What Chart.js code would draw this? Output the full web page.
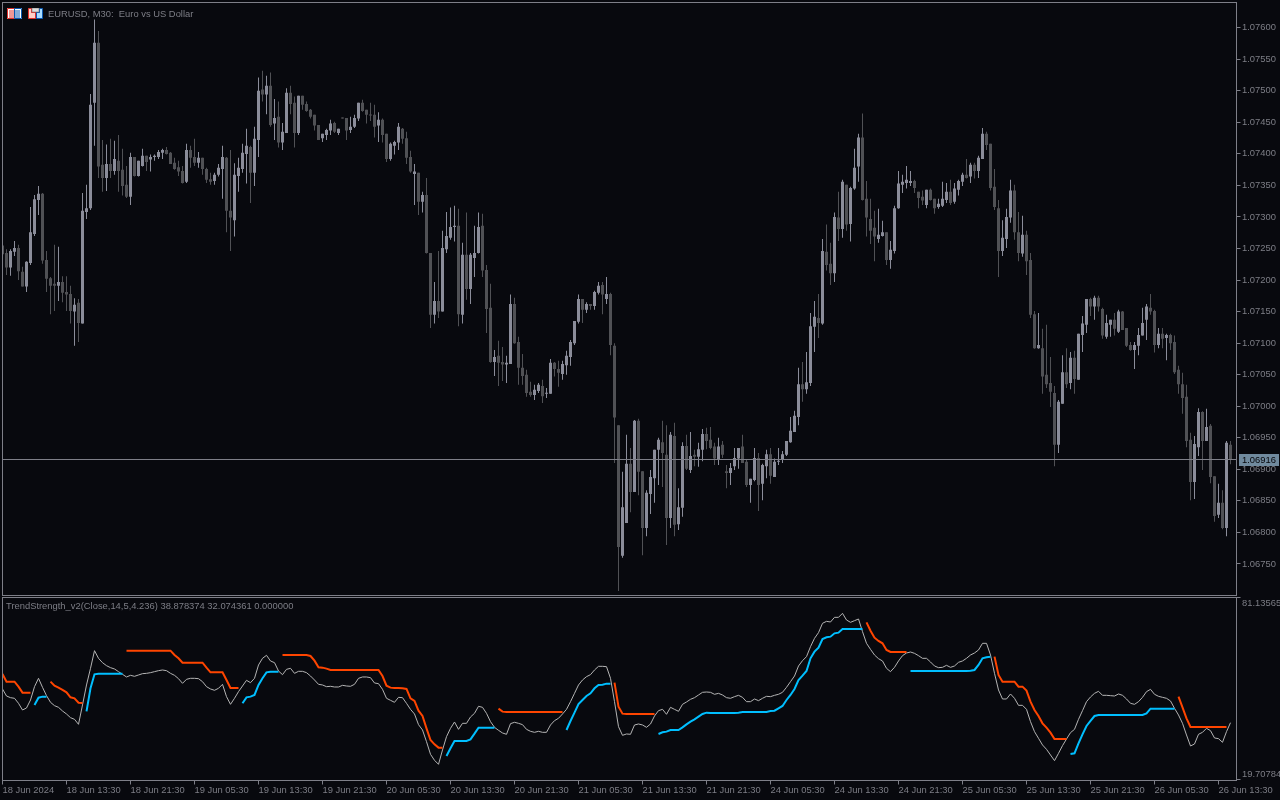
<!DOCTYPE html>
<html>
<head>
<meta charset="utf-8">
<title>EURUSD M30 - TrendStrength_v2</title>
<script src="https://cdn.jsdelivr.net/npm/chart.js@4/dist/chart.umd.min.js"></script>
<style>
    html, body { margin: 0; padding: 0; width: 1280px; height: 800px; overflow: hidden; background: #08090e; }
    canvas { position: absolute; left: 0; display: block; }
    #priceChart { top: 0; }
    #strengthChart { top: 596px; }
    .icon { position: absolute; top: 8px; z-index: 2; }
</style>
</head>
<body>
<svg class="icon" style="left:7px" width="15" height="11" viewBox="0 0 15 11">
    <rect width="15" height="11" fill="#fff"/>
    <path d="M.5 .5H7.5V10.5H.5Z" fill="none" stroke="#e0302a"/>
    <path d="M7.5 .5H14.5V10.5H7.5Z" fill="none" stroke="#0a58b0"/>
    <path d="M2 3H7M2 5H7M2 7H7M2 9H7" stroke="#e0302a"/>
    <path d="M8 3H13M8 5H13M8 7H13M8 9H13" stroke="#0a58b0"/>
</svg>
<svg class="icon" style="left:28px" width="15" height="11" viewBox="0 0 15 11">
    <path d="M.5 .5H3.5V4.5H7.5V10.5H.5Z" fill="#ffd0c8" stroke="#e0302a"/>
    <path d="M8.5 10.5V4.5H11.5V.5H14.5V10.5Z" fill="#a8dcff" stroke="#0a58b0"/>
    <rect x="4" y="0" width="7" height="4" fill="#ddd" stroke="#777" stroke-width=".6"/>
</svg>
<canvas id="priceChart" width="1280" height="596"></canvas>
<canvas id="strengthChart" width="1280" height="204"></canvas>

<script>
// Candles, 308 M30 bars
const opens = [
    1.07255,1.07243,1.07220,1.07245,1.07251,1.07213,1.07190,1.07227,1.07273,1.07327,
    1.07337,1.07232,1.07203,1.07194,1.07191,1.07197,1.07181,1.07178,1.07150,1.07164,
    1.07131,1.07308,1.07314,1.07481,1.07576,1.07383,1.07362,1.07384,1.07373,1.07389,
    1.07375,1.07351,1.07332,1.07395,1.07365,1.07381,1.07397,1.07391,1.07395,1.07395,
    1.07402,1.07406,1.07402,1.07386,1.07379,1.07373,1.07356,1.07406,1.07395,1.07386,
    1.07394,1.07376,1.07360,1.07357,1.07367,1.07376,1.07394,1.07310,1.07295,1.07365,
    1.07376,1.07400,1.07411,1.07370,1.07422,1.07502,1.07494,1.07508,1.07448,1.07459,
    1.07418,1.07433,1.07497,1.07481,1.07433,1.07492,1.07479,1.07470,1.07462,1.07446,
    1.07425,1.07430,1.07437,1.07449,1.07433,1.07457,1.07457,1.07438,1.07443,1.07456,
    1.07481,1.07470,1.07462,1.07462,1.07445,1.07454,1.07432,1.07392,1.07413,1.07418,
    1.07440,1.07425,1.07395,1.07368,1.07370,1.07324,1.07335,1.07243,1.07145,1.07167,
    1.07150,1.07249,1.07267,1.07284,1.07286,1.07145,1.07240,1.07186,1.07235,1.07243,
    1.07286,1.07216,1.07156,1.07070,1.07080,1.07070,1.07066,1.07067,1.07162,1.07102,
    1.07061,1.07050,1.07023,1.07018,1.07024,1.07032,1.07020,1.07020,1.07069,1.07059,
    1.07051,1.07065,1.07078,1.07100,1.07134,1.07170,1.07153,1.07162,1.07159,1.07180,
    1.07192,1.07170,1.07178,1.07096,1.06970,1.06763,1.06815,1.06909,1.06864,1.06977,
    1.06897,1.06807,1.06861,1.06886,1.06931,1.06943,1.06923,1.06823,1.06953,1.06813,
    1.06839,1.06937,1.06899,1.06923,1.06920,1.06931,1.06956,1.06947,1.06936,1.06915,
    1.06939,1.06897,1.06894,1.06905,1.06917,1.06936,1.06912,1.06875,1.06883,1.06918,
    1.06877,1.06905,1.06924,1.06888,1.06912,1.06915,1.06923,1.06943,1.06959,1.06983,
    1.07035,1.07027,1.07037,1.07126,1.07140,1.07131,1.07245,1.07226,1.07211,1.07299,
    1.07281,1.07351,1.07289,1.07345,1.07380,1.07426,1.07329,1.07297,1.07283,1.07265,
    1.07270,1.07276,1.07232,1.07246,1.07314,1.07351,1.07354,1.07354,1.07357,1.07340,
    1.07332,1.07319,1.07343,1.07329,1.07316,1.07318,1.07327,1.07340,1.07324,1.07343,
    1.07356,1.07367,1.07364,1.07383,1.07373,1.07392,1.07432,1.07416,1.07348,1.07314,
    1.07246,1.07265,1.07299,1.07342,1.07276,1.07242,1.07272,1.07232,1.07146,1.07092,
    1.07092,1.07050,1.07037,1.07021,1.06939,1.07004,1.07054,1.07037,1.07077,1.07042,
    1.07113,1.07129,1.07170,1.07158,1.07172,1.07154,1.07110,1.07129,1.07137,1.07118,
    1.07150,1.07124,1.07097,1.07089,1.07096,1.07112,1.07137,1.07156,1.07151,1.07097,
    1.07115,1.07108,1.07113,1.07102,1.07058,1.07035,1.07015,1.06947,1.06880,1.06935,
    1.06991,1.06945,1.06969,1.06889,1.06828,1.06847,1.06807,1.06939
];
const highs = [
    1.07255,1.07249,1.07249,1.07262,1.07256,1.07221,1.07230,1.07316,1.07335,1.07349,
    1.07338,1.07246,1.07205,1.07256,1.07253,1.07206,1.07206,1.07191,1.07171,1.07170,
    1.07338,1.07351,1.07495,1.07613,1.07595,1.07422,1.07415,1.07424,1.07421,1.07430,
    1.07408,1.07381,1.07402,1.07395,1.07389,1.07408,1.07397,1.07399,1.07399,1.07406,
    1.07408,1.07411,1.07403,1.07394,1.07389,1.07381,1.07416,1.07413,1.07424,1.07403,
    1.07394,1.07378,1.07370,1.07370,1.07384,1.07413,1.07395,1.07406,1.07385,1.07394,
    1.07416,1.07440,1.07413,1.07443,1.07521,1.07532,1.07524,1.07529,1.07487,1.07483,
    1.07449,1.07504,1.07508,1.07491,1.07492,1.07492,1.07483,1.07471,1.07462,1.07446,
    1.07432,1.07440,1.07454,1.07451,1.07440,1.07457,1.07457,1.07459,1.07462,1.07481,
    1.07486,1.07470,1.07481,1.07478,1.07466,1.07456,1.07432,1.07418,1.07421,1.07449,
    1.07441,1.07435,1.07405,1.07384,1.07370,1.07340,1.07362,1.07243,1.07197,1.07246,
    1.07278,1.07308,1.07315,1.07318,1.07313,1.07259,1.07307,1.07243,1.07286,1.07307,
    1.07305,1.07224,1.07194,1.07089,1.07104,1.07094,1.07080,1.07177,1.07172,1.07110,
    1.07083,1.07058,1.07039,1.07034,1.07037,1.07042,1.07029,1.07075,1.07070,1.07072,
    1.07072,1.07088,1.07105,1.07135,1.07177,1.07170,1.07165,1.07162,1.07183,1.07197,
    1.07197,1.07205,1.07180,1.07100,1.06970,1.06896,1.06955,1.06934,1.06978,1.06980,
    1.06897,1.06867,1.06899,1.06931,1.06950,1.06977,1.06970,1.06959,1.06974,1.06870,
    1.06943,1.06955,1.06959,1.06931,1.06942,1.06964,1.06966,1.06967,1.06942,1.06950,
    1.06945,1.06907,1.06910,1.06934,1.06934,1.06955,1.06915,1.06885,1.06934,1.06926,
    1.06909,1.06931,1.06934,1.06917,1.06934,1.06929,1.06945,1.06983,1.06993,1.07061,
    1.07070,1.07086,1.07148,1.07167,1.07178,1.07265,1.07288,1.07259,1.07307,1.07340,
    1.07359,1.07351,1.07348,1.07408,1.07432,1.07464,1.07357,1.07329,1.07310,1.07313,
    1.07294,1.07276,1.07262,1.07318,1.07373,1.07367,1.07381,1.07373,1.07359,1.07340,
    1.07342,1.07343,1.07345,1.07329,1.07329,1.07356,1.07354,1.07359,1.07354,1.07359,
    1.07370,1.07392,1.07386,1.07386,1.07397,1.07441,1.07435,1.07416,1.07376,1.07327,
    1.07295,1.07313,1.07359,1.07351,1.07308,1.07302,1.07278,1.07243,1.07151,1.07148,
    1.07123,1.07129,1.07078,1.07032,1.07010,1.07081,1.07092,1.07086,1.07088,1.07115,
    1.07143,1.07170,1.07172,1.07175,1.07175,1.07156,1.07145,1.07137,1.07148,1.07153,
    1.07151,1.07124,1.07102,1.07102,1.07124,1.07156,1.07162,1.07178,1.07153,1.07124,
    1.07124,1.07115,1.07115,1.07112,1.07064,1.07053,1.07034,1.06958,1.06953,1.06997,
    1.06992,1.06996,1.06972,1.06889,1.06877,1.06867,1.06945,1.06945
];
const lows = [
    1.07238,1.07208,1.07207,1.07238,1.07200,1.07190,1.07181,1.07224,1.07270,1.07303,
    1.07226,1.07181,1.07146,1.07151,1.07167,1.07165,1.07151,1.07131,1.07096,1.07102,
    1.07131,1.07297,1.07311,1.07413,1.07362,1.07340,1.07341,1.07362,1.07367,1.07340,
    1.07334,1.07330,1.07319,1.07364,1.07364,1.07380,1.07373,1.07372,1.07389,1.07392,
    1.07392,1.07399,1.07384,1.07375,1.07365,1.07353,1.07354,1.07378,1.07381,1.07378,
    1.07367,1.07354,1.07351,1.07351,1.07364,1.07329,1.07276,1.07246,1.07269,1.07340,
    1.07370,1.07353,1.07322,1.07349,1.07395,1.07483,1.07463,1.07443,1.07422,1.07410,
    1.07406,1.07433,1.07463,1.07410,1.07430,1.07470,1.07467,1.07456,1.07437,1.07422,
    1.07419,1.07422,1.07430,1.07433,1.07430,1.07456,1.07422,1.07433,1.07441,1.07452,
    1.07467,1.07448,1.07452,1.07426,1.07419,1.07418,1.07387,1.07389,1.07399,1.07406,
    1.07416,1.07384,1.07370,1.07319,1.07303,1.07307,1.07242,1.07124,1.07131,1.07140,
    1.07150,1.07243,1.07264,1.07261,1.07127,1.07131,1.07169,1.07162,1.07205,1.07242,
    1.07205,1.07116,1.07069,1.07048,1.07032,1.07040,1.07037,1.07067,1.07099,1.07034,
    1.07034,1.07015,1.07015,1.07010,1.07021,1.07005,1.07013,1.07020,1.07047,1.07031,
    1.07042,1.07050,1.07064,1.07097,1.07131,1.07132,1.07148,1.07153,1.07153,1.07177,
    1.07146,1.07162,1.07081,1.06910,1.06707,1.06760,1.06815,1.06832,1.06864,1.06859,
    1.06764,1.06794,1.06829,1.06847,1.06875,1.06872,1.06780,1.06807,1.06794,1.06804,
    1.06825,1.06899,1.06894,1.06905,1.06904,1.06913,1.06932,1.06932,1.06907,1.06907,
    1.06918,1.06870,1.06875,1.06899,1.06901,1.06910,1.06872,1.06847,1.06881,1.06834,
    1.06851,1.06886,1.06877,1.06888,1.06907,1.06910,1.06921,1.06942,1.06959,1.06970,
    1.07007,1.07020,1.07032,1.07086,1.07108,1.07129,1.07215,1.07192,1.07197,1.07262,
    1.07267,1.07278,1.07261,1.07343,1.07356,1.07326,1.07269,1.07257,1.07230,1.07259,
    1.07269,1.07224,1.07218,1.07242,1.07313,1.07338,1.07345,1.07349,1.07338,1.07314,
    1.07319,1.07314,1.07326,1.07305,1.07313,1.07316,1.07322,1.07319,1.07321,1.07334,
    1.07349,1.07361,1.07354,1.07361,1.07362,1.07392,1.07406,1.07342,1.07311,1.07205,
    1.07238,1.07251,1.07291,1.07264,1.07230,1.07237,1.07208,1.07140,1.07091,1.07091,
    1.07020,1.07029,1.06999,1.06905,1.06926,1.07004,1.07029,1.07027,1.07020,1.07042,
    1.07086,1.07116,1.07143,1.07137,1.07150,1.07107,1.07107,1.07110,1.07112,1.07116,
    1.07121,1.07094,1.07088,1.07059,1.07081,1.07112,1.07105,1.07145,1.07085,1.07092,
    1.07092,1.07073,1.07089,1.07051,1.07020,1.06988,1.06935,1.06851,1.06853,1.06921,
    1.06899,1.06945,1.06878,1.06817,1.06823,1.06805,1.06794,1.06908
];
const closes = [
    1.07241,1.07220,1.07246,1.07251,1.07214,1.07190,1.07229,1.07276,1.07328,1.07337,
    1.07231,1.07202,1.07191,1.07191,1.07197,1.07180,1.07177,1.07151,1.07161,1.07132,
    1.07310,1.07314,1.07478,1.07576,1.07380,1.07362,1.07384,1.07373,1.07392,1.07373,
    1.07349,1.07332,1.07395,1.07365,1.07389,1.07397,1.07387,1.07395,1.07397,1.07403,
    1.07406,1.07400,1.07384,1.07376,1.07372,1.07354,1.07406,1.07394,1.07386,1.07394,
    1.07376,1.07359,1.07356,1.07367,1.07378,1.07395,1.07310,1.07299,1.07367,1.07378,
    1.07402,1.07413,1.07370,1.07424,1.07500,1.07494,1.07508,1.07446,1.07457,1.07418,
    1.07435,1.07497,1.07479,1.07433,1.07492,1.07478,1.07468,1.07459,1.07445,1.07422,
    1.07432,1.07438,1.07448,1.07435,1.07440,1.07456,1.07437,1.07443,1.07457,1.07481,
    1.07468,1.07462,1.07461,1.07443,1.07454,1.07430,1.07392,1.07416,1.07419,1.07443,
    1.07424,1.07394,1.07372,1.07372,1.07324,1.07335,1.07243,1.07145,1.07167,1.07150,
    1.07251,1.07270,1.07284,1.07286,1.07146,1.07240,1.07186,1.07240,1.07243,1.07284,
    1.07215,1.07154,1.07070,1.07078,1.07069,1.07066,1.07069,1.07162,1.07100,1.07061,
    1.07048,1.07021,1.07018,1.07026,1.07034,1.07016,1.07021,1.07069,1.07059,1.07053,
    1.07067,1.07080,1.07102,1.07135,1.07170,1.07153,1.07162,1.07159,1.07181,1.07191,
    1.07177,1.07178,1.07097,1.06982,1.06777,1.06840,1.06909,1.06864,1.06977,1.06896,
    1.06807,1.06863,1.06888,1.06931,1.06947,1.06926,1.06823,1.06955,1.06812,1.06840,
    1.06937,1.06901,1.06921,1.06920,1.06932,1.06956,1.06945,1.06934,1.06917,1.06936,
    1.06923,1.06894,1.06902,1.06918,1.06934,1.06910,1.06875,1.06885,1.06918,1.06875,
    1.06907,1.06924,1.06890,1.06912,1.06913,1.06924,1.06945,1.06961,1.06985,1.07035,
    1.07027,1.07038,1.07127,1.07142,1.07132,1.07246,1.07224,1.07211,1.07300,1.07281,
    1.07356,1.07288,1.07346,1.07378,1.07426,1.07327,1.07299,1.07278,1.07269,1.07272,
    1.07276,1.07232,1.07248,1.07314,1.07353,1.07356,1.07359,1.07357,1.07346,1.07330,
    1.07326,1.07343,1.07327,1.07314,1.07321,1.07329,1.07340,1.07322,1.07345,1.07357,
    1.07367,1.07362,1.07383,1.07373,1.07394,1.07432,1.07414,1.07346,1.07316,1.07246,
    1.07267,1.07300,1.07342,1.07276,1.07243,1.07272,1.07230,1.07145,1.07092,1.07097,
    1.07047,1.07035,1.07023,1.06939,1.07007,1.07054,1.07035,1.07077,1.07043,1.07115,
    1.07131,1.07170,1.07158,1.07172,1.07158,1.07112,1.07132,1.07137,1.07123,1.07150,
    1.07121,1.07096,1.07089,1.07097,1.07113,1.07132,1.07158,1.07150,1.07097,1.07115,
    1.07107,1.07113,1.07100,1.07054,1.07035,1.07013,1.06945,1.06880,1.06940,1.06991,
    1.06945,1.06967,1.06888,1.06826,1.06847,1.06807,1.06942,1.06916
];

// Price axis and last price
const priceTicks = [
    1.07600,1.07550,1.07500,1.07450,1.07400,1.07350,1.07300,1.07250,1.07200,
    1.07150,1.07100,1.07050,1.07000,1.06950,1.06900,1.06850,1.06800,1.06750
];
const bidPrice = 1.06916;

// TrendStrength_v2 buffers
const strengthLine = [
    50.26,47.89,47.33,47.11,45.42,43.17,43.84,46.54,51.04,53.86,
    50.82,48.01,45.76,44.63,44.07,42.83,41.82,40.58,40.02,38.33,
    44.86,51.61,57.23,63.19,60.61,59.14,58.13,57.46,57.01,56.11,
    55.21,54.31,54.87,54.53,54.98,55.43,55.54,55.77,56.11,56.44,
    56.67,56.44,55.54,54.87,53.74,52.17,53.52,53.86,53.86,53.74,
    52.73,51.04,50.26,49.81,50.48,51.83,47.67,45.08,47.11,49.36,
    51.27,53.18,52.39,53.86,58.36,60.61,61.62,59.71,59.14,56.33,
    55.09,56.89,57.23,55.54,56.22,56.22,55.77,54.64,53.29,51.83,
    51.61,51.04,51.16,50.93,50.93,51.49,51.27,51.16,51.83,53.86,
    54.31,54.31,54.08,52.28,52.06,50.14,47.11,46.43,45.76,47.44,
    47.33,45.42,43.39,41.82,38.22,36.42,32.48,28.21,26.18,24.83,
    29.67,34.17,36.98,39.12,36.64,38.67,38.67,40.81,42.04,44.41,
    44.07,42.04,39.23,37.32,36.31,35.41,34.96,38.56,39.01,38.67,
    38.22,36.64,35.97,35.63,35.97,35.63,35.63,38.11,39.57,40.36,
    41.82,43.39,45.98,48.79,51.61,53.29,54.42,55.09,56.67,57.91,
    57.91,57.79,53.86,45.98,37.54,34.62,35.07,34.96,38.11,38.44,
    38.11,37.32,38.44,41.14,42.94,43.39,41.71,44.07,43.39,42.72,
    45.08,45.87,46.77,47.33,48.23,49.13,49.24,49.13,48.46,48.79,
    48.23,47.33,47.11,47.67,48.12,47.44,45.98,45.98,46.88,46.32,
    47.11,47.78,47.67,48.12,48.46,49.13,50.82,52.73,54.64,58.02,
    59.82,61.17,64.54,67.36,69.27,72.42,73.09,72.87,74.44,74.44,
    75.79,73.54,72.76,73.32,73.88,69.61,65.67,63.64,61.73,60.49,
    59.71,57.23,56.11,57.57,59.71,61.51,62.41,62.74,62.29,61.51,
    60.61,60.61,59.37,58.02,57.46,57.57,58.24,57.57,58.02,59.26,
    59.71,60.61,61.73,62.41,63.42,65.67,65.67,61.73,55.54,49.92,
    46.88,46.88,48.57,47.11,44.74,44.74,43.39,39.23,35.86,33.61,
    31.36,29.89,27.98,26.07,28.54,31.13,33.38,35.52,36.64,40.02,
    42.94,45.98,47.56,48.79,49.47,48.12,48.12,48.01,47.89,48.57,
    48.12,46.88,45.42,45.08,45.98,47.44,49.36,50.14,48.46,47.78,
    47.44,47.11,46.21,43.73,41.48,38.67,34.73,31.02,31.69,34.96,
    35.63,36.98,36.19,33.72,33.49,32.26,35.86,38.88
];
const strengthUp = [
    null,null,null,null,null,null,null,null,44.86,47.33,
    47.67,47.67,null,null,null,null,null,null,null,null,
    null,42.72,50.48,55.21,55.43,55.43,55.43,55.43,55.43,55.43,
    55.43,null,null,null,null,null,null,null,null,null,
    null,null,null,null,null,null,null,null,null,null,
    null,null,null,null,null,null,null,null,null,null,
    45.42,47.44,47.67,48.23,51.61,53.86,55.88,56.11,56.11,56.11,
    null,null,null,null,null,null,null,null,null,null,
    null,null,null,null,null,null,null,null,null,null,
    null,null,null,null,null,null,null,null,null,null,
    null,null,null,null,null,null,null,null,null,null,
    null,27.64,30.23,32.71,32.71,32.71,32.71,33.27,35.18,37.21,
    37.21,37.21,37.21,37.21,null,null,null,null,null,null,
    null,null,null,null,null,null,null,null,null,null,
    null,36.42,39.46,42.27,45.19,46.54,47.89,48.79,50.48,51.61,
    51.72,52.06,52.06,null,null,null,null,null,null,null,
    null,null,null,null,35.07,35.63,35.86,36.42,36.42,36.42,
    37.32,38.33,39.23,40.02,40.92,41.82,42.27,42.16,42.16,42.16,
    42.16,42.16,42.16,42.16,42.27,42.49,42.49,42.49,42.49,42.49,
    42.49,42.49,42.83,42.94,43.73,44.52,46.54,48.23,50.26,53.29,
    54.76,56.33,60.61,62.86,64.21,67.13,67.69,67.92,69.04,69.27,
    70.51,70.51,70.51,70.51,70.51,70.51,null,null,null,null,
    null,null,null,null,null,null,null,56.33,56.33,56.33,
    56.33,56.33,56.33,56.33,56.33,56.33,56.33,56.33,56.33,56.33,
    56.33,56.33,56.44,56.67,58.36,60.61,60.94,61.17,null,null,
    null,null,null,null,null,null,null,null,null,null,
    null,null,null,null,null,null,null,28.32,28.54,31.92,
    34.96,37.77,39.46,41.14,41.48,41.48,41.48,41.48,41.48,41.48,
    41.48,41.48,41.48,41.48,41.48,41.48,42.04,43.62,43.62,43.62,
    43.62,43.62,43.62,43.62,null,null,null,null,null,null,
    null,null,null,null,null,null,null,null
];
const strengthDown = [
    55.32,52.73,52.73,52.73,51.04,49.02,49.02,49.02,null,null,
    null,null,52.73,51.38,50.71,49.92,49.13,47.44,47.11,45.64,
    45.53,null,null,null,null,null,null,null,null,null,
    null,63.19,63.19,63.19,63.19,63.19,63.19,63.19,63.19,63.19,
    63.19,63.19,63.19,61.73,60.61,59.14,59.14,59.14,59.14,59.14,
    59.14,57.46,55.88,55.88,55.88,55.88,53.29,50.59,50.59,50.59,
    null,null,null,null,null,null,null,null,null,null,
    61.73,61.73,61.73,61.73,61.73,61.73,61.73,61.39,59.82,57.57,
    57.46,57.12,56.67,56.67,56.67,56.67,56.67,56.67,56.67,56.67,
    56.67,56.67,56.67,56.67,56.67,54.64,51.38,50.71,50.59,50.59,
    50.48,50.26,47.11,46.21,42.94,41.14,36.98,33.04,31.58,30.46,
    30.46,null,null,null,null,null,null,null,null,null,
    null,null,null,null,43.62,42.61,42.49,42.49,42.49,42.49,
    42.49,42.49,42.49,42.49,42.49,42.49,42.49,42.49,42.49,42.49,
    42.49,null,null,null,null,null,null,null,null,null,
    null,null,null,52.39,44.29,41.93,41.82,41.82,41.82,41.82,
    41.82,41.82,41.82,41.82,null,null,null,null,null,null,
    null,null,null,null,null,null,null,null,null,null,
    null,null,null,null,null,null,null,null,null,null,
    null,null,null,null,null,null,null,null,null,null,
    null,null,null,null,null,null,null,null,null,null,
    null,null,null,null,null,null,72.76,69.94,67.58,66.46,
    65.67,63.42,62.74,62.74,62.74,62.74,62.74,null,null,null,
    null,null,null,null,null,null,null,null,null,null,
    null,null,null,null,null,null,null,null,61.17,54.98,
    52.73,52.73,52.73,52.73,51.04,51.04,49.69,45.98,43.17,41.14,
    38.67,37.21,35.52,33.38,33.38,33.38,33.38,null,null,null,
    null,null,null,null,null,null,null,null,null,null,
    null,null,null,null,null,null,null,null,null,null,
    null,null,null,null,47.67,44.07,40.36,37.43,37.43,37.43,
    37.43,37.43,37.43,37.43,37.43,37.43,37.43,null
];
const strengthTicks = [81.13565, 19.70784];

// Time axis, one label every 16 bars
const timeLabels = [
    '18 Jun 2024','18 Jun 13:30','18 Jun 21:30','19 Jun 05:30','19 Jun 13:30',
    '19 Jun 21:30','20 Jun 05:30','20 Jun 13:30','20 Jun 21:30','21 Jun 05:30',
    '21 Jun 13:30','21 Jun 21:30','24 Jun 05:30','24 Jun 13:30','24 Jun 21:30',
    '25 Jun 05:30','25 Jun 13:30','25 Jun 21:30','26 Jun 05:30','26 Jun 13:30'
];

// Terminal colors
const colors = {
    background: '#08090e',
    frame: '#7e7f88',
    text: '#7d7e86',
    up: '#8b8d9a',
    down: '#505155',
    bidBox: '#708a9e',
    bidText: '#05060a',
    line: '#b4b4b4',
    strengthUp: '#00bfff',
    strengthDown: '#ff4500'
};
const labelFont = { family: '"Liberation Sans", sans-serif', size: 9.4 };
const labelCss = '9.4px "Liberation Sans", sans-serif';

// Pane border and caption
const panePlugin = {
    id: 'pane',
    beforeDraw(chart, args, opts) {
        const ctx = chart.ctx;
        ctx.save();
        ctx.fillStyle = colors.background;
        ctx.fillRect(0, 0, chart.width, chart.height);
        ctx.restore();
    },
    afterDraw(chart, args, opts) {
        const { ctx, chartArea: a } = chart;
        ctx.save();
        ctx.strokeStyle = colors.frame;
        ctx.lineWidth = 1;
        ctx.strokeRect(a.left, a.top, a.right - a.left, a.bottom - a.top);
        ctx.font = labelCss;
        ctx.fillStyle = colors.text;
        ctx.textBaseline = 'middle';
        ctx.fillText(opts.caption, opts.captionX, opts.captionY);
        ctx.restore();
    }
};

// Last price line with its box on the axis
const bidPlugin = {
    id: 'bid',
    afterDraw(chart) {
        const { ctx, chartArea: a, scales } = chart;
        const y = Math.round(scales.y.getPixelForValue(bidPrice)) + 0.5;
        ctx.save();
        ctx.strokeStyle = colors.frame;
        ctx.beginPath();
        ctx.moveTo(a.left, y);
        ctx.lineTo(a.right, y);
        ctx.stroke();
        ctx.fillStyle = colors.bidBox;
        ctx.fillRect(a.right + 2.5, y - 5.5, 40, 12);
        ctx.font = labelCss;
        ctx.fillStyle = colors.bidText;
        ctx.textBaseline = 'middle';
        ctx.fillText(bidPrice.toFixed(5), a.right + 5.5, y + 0.5);
        ctx.restore();
    }
};

// Indicator range labels sit inside the pane, next to their ticks
const rangeLabelPlugin = {
    id: 'rangeLabels',
    afterDraw(chart) {
        const { ctx, chartArea: a, scales } = chart;
        ctx.save();
        ctx.font = labelCss;
        ctx.fillStyle = colors.text;
        ctx.textBaseline = 'middle';
        ctx.fillText(strengthTicks[0].toFixed(5), a.right + 5.5, scales.y.getPixelForValue(strengthTicks[0]) + 5.5);
        ctx.fillText(strengthTicks[1].toFixed(5), a.right + 5.5, scales.y.getPixelForValue(strengthTicks[1]) - 5.5);
        ctx.restore();
    }
};

function candleColor(ctx) {
    const i = ctx.dataIndex;
    return closes[i] >= opens[i] ? colors.up : colors.down;
}

// x runs in bar numbers so every bar takes 4 px
function barScale(visible) {
    return {
        type: 'linear',
        display: visible,
        offset: false,
        min: 0,
        max: 308.5,
        border: { display: false },
        grid: { offset: false, drawOnChartArea: false, drawTicks: true, tickLength: 4, color: colors.frame },
        ticks: {
            stepSize: 16,
            includeBounds: false,
            autoSkip: false,
            maxRotation: 0,
            align: 'start',
            padding: 0,
            color: colors.text,
            font: labelFont,
            callback: value => timeLabels[value / 16]
        },
        afterFit(scale) {
            scale.height = visible ? 19.5 : 0;
            scale.paddingLeft = 0;
            scale.paddingRight = 0;
        }
    };
}

function createPriceChart() {
    const wicks = highs.map((h, i) => ({ x: i, y: [lows[i], h] }));
    const bodies = opens.map((o, i) => ({ x: i, y: [o, closes[i]] }));
    const barStyle = {
        grouped: false,
        backgroundColor: candleColor,
        borderWidth: 0,
        borderSkipped: false,
        inflateAmount: 0,
        minBarLength: 1
    };

    return new Chart(document.getElementById('priceChart'), {
        type: 'bar',
        data: {
            datasets: [
                { ...barStyle, label: 'Body', data: bodies, barThickness: 3 },
                { ...barStyle, label: 'Wick', data: wicks, barThickness: 1 }
            ]
        },
        options: {
            responsive: false,
            animation: false,
            devicePixelRatio: 1,
            layout: { padding: { left: 2.5, top: 2.5, right: 0, bottom: 0.5 } },
            plugins: {
                legend: { display: false },
                tooltip: { enabled: false },
                pane: { caption: 'EURUSD, M30:  Euro vs US Dollar', captionX: 48, captionY: 14 }
            },
            scales: {
                x: barScale(false),
                y: {
                    position: 'right',
                    min: 1.06700,
                    max: 1.07640,
                    border: { display: false },
                    grid: { drawOnChartArea: false, drawTicks: true, tickLength: 4, color: colors.frame },
                    ticks: {
                        padding: 1.5,
                        color: colors.text,
                        font: labelFont,
                        callback: value => value.toFixed(5)
                    },
                    afterBuildTicks(scale) {
                        scale.ticks = priceTicks.map(value => ({ value }));
                    },
                    afterFit(scale) {
                        scale.width = 43.5;
                        scale.paddingTop = 0;
                        scale.paddingBottom = 0;
                    }
                }
            }
        },
        plugins: [panePlugin, bidPlugin]
    });
}

function createStrengthChart() {
    const toPoints = values => values.map((y, x) => ({ x, y }));
    const lineStyle = { pointRadius: 0, tension: 0, spanGaps: false, borderJoinStyle: 'miter' };

    return new Chart(document.getElementById('strengthChart'), {
        type: 'line',
        data: {
            datasets: [
                { ...lineStyle, label: 'Down', data: toPoints(strengthDown), borderColor: colors.strengthDown, borderWidth: 2 },
                { ...lineStyle, label: 'Up', data: toPoints(strengthUp), borderColor: colors.strengthUp, borderWidth: 2 },
                { ...lineStyle, label: 'Strength', data: toPoints(strengthLine), borderColor: colors.line, borderWidth: 1 }
            ]
        },
        options: {
            responsive: false,
            animation: false,
            devicePixelRatio: 1,
            layout: { padding: { left: 2.5, top: 1.5, right: 0, bottom: 0 } },
            plugins: {
                legend: { display: false },
                tooltip: { enabled: false },
                pane: {
                    caption: 'TrendStrength_v2(Close,14,5,4.236) 38.878374 32.074361 0.000000',
                    captionX: 6,
                    captionY: 10
                }
            },
            scales: {
                x: barScale(true),
                y: {
                    position: 'right',
                    min: 19.37,
                    max: 81.13565,
                    border: { display: false },
                    grid: { drawOnChartArea: false, drawTicks: true, tickLength: 4, color: colors.frame },
                    ticks: { display: false },
                    afterBuildTicks(scale) {
                        scale.ticks = strengthTicks.map(value => ({ value }));
                    },
                    afterFit(scale) {
                        scale.width = 43.5;
                        scale.paddingTop = 0;
                        scale.paddingBottom = 0;
                    }
                }
            }
        },
        plugins: [panePlugin, rangeLabelPlugin]
    });
}

createPriceChart();
createStrengthChart();
</script>
</body>
</html>
